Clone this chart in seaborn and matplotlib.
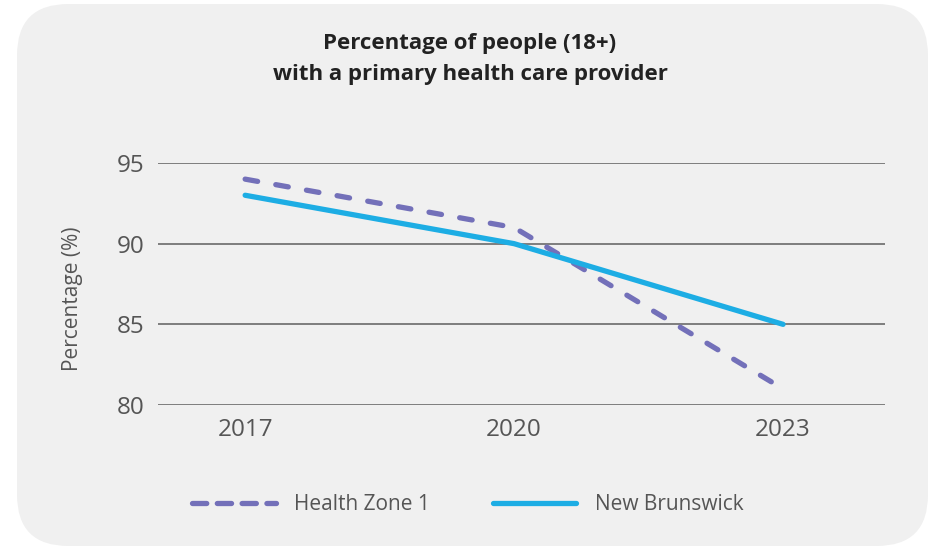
import matplotlib
matplotlib.use("Agg")
import matplotlib.pyplot as plt
import seaborn as sns
import pandas as pd
from matplotlib.patches import FancyBboxPatch
from matplotlib.lines import Line2D

years = ["2017", "2020", "2023"]
health_zone_1 = [94, 91, 81]
new_brunswick = [93, 90, 85]
series_names = ["Health Zone 1", "New Brunswick"]
y_ticks = [80, 85, 90, 95]
title = "Percentage of people (18+)\nwith a primary health care provider"
y_label = "Percentage (%)"

df = pd.DataFrame({
    "Year": years * 2,
    "Value": health_zone_1 + new_brunswick,
    "Series": [series_names[0]] * 3 + [series_names[1]] * 3,
})

sns.set_theme(style="white")
plt.rcParams["font.family"] = ["Open Sans", "DejaVu Sans"]

W, H = 934, 546
fig = plt.figure(figsize=(W / 100, H / 100), dpi=100)
fig.patch.set_facecolor("white")

bg = FancyBboxPatch((17 / W, 1 - 546 / H), (928 - 17) / W, (546 - 4) / H,
                    boxstyle="round,pad=0,rounding_size=0.055",
                    transform=fig.transFigure, facecolor="#f0f0f0",
                    edgecolor="none", zorder=-10,
                    mutation_aspect=W / H)
fig.add_artist(bg)

ax = fig.add_axes([158 / W, 1 - 405 / H, (885 - 158) / W, (405 - 163) / H])
ax.set_zorder(1)
ax.set_facecolor("none")

palette = {series_names[0]: "#7370b9", series_names[1]: "#1dade4"}
sns.lineplot(data=df, x="Year", y="Value", hue="Series", palette=palette,
             ax=ax, linewidth=3.8, legend=False, sort=False)
lines = ax.get_lines()
lines[0].set_dashes([2.4, 3.5])
lines[0].set_dash_capstyle("round")
lines[1].set_solid_capstyle("round")
for ln in lines:
    ln.set_clip_on(False)
    ln.set_solid_joinstyle("round")
    ln.set_dash_joinstyle("round")

ax.set_xlim(-0.324, 2.379)
ax.set_ylim(80, 95)
ax.set_yticks(y_ticks)
ax.grid(axis="y", color="#6a6a6a", linewidth=1.2)
ax.set_axisbelow(True)
for s in ax.spines.values():
    s.set_visible(False)
ax.tick_params(axis="both", length=0, labelsize=17.5, colors="#555555")
ax.tick_params(axis="x", pad=9)
ax.tick_params(axis="y", pad=10)
ax.set_xlabel("")
ax.set_ylabel(y_label, fontsize=15, color="#555555")
ax.yaxis.set_label_coords(-0.103, 0.44)

fig.text(470 / W, 1 - 59 / H, title, ha="center", va="center",
         fontsize=16, fontweight="bold", color="#222222", linespacing=1.65)

handles = [
    Line2D([], [], color=palette[series_names[0]], linewidth=3.8,
           dashes=[2.7, 2.0], dash_capstyle="round"),
    Line2D([], [], color=palette[series_names[1]], linewidth=3.8,
           solid_capstyle="round"),
]
fig.legend(handles, series_names, loc="center", bbox_to_anchor=(468 / W, 1 - 505 / H),
           ncol=2, frameon=False, fontsize=15, handlelength=4.0,
           columnspacing=3.0, handletextpad=0.9, labelcolor="#555555")

fig.savefig("out.png", dpi=100, facecolor="white")
